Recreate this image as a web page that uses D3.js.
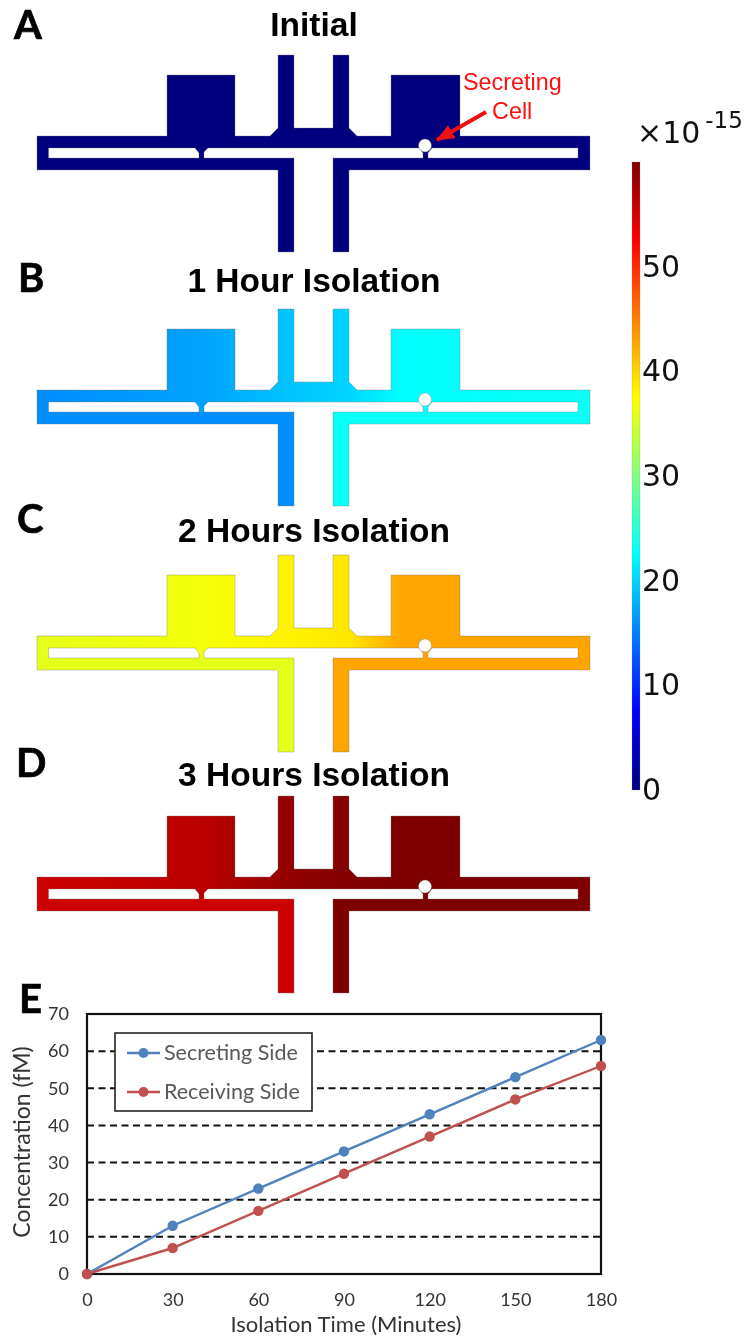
<!DOCTYPE html>
<html>
<head>
<meta charset="utf-8">
<script src="https://cdn.jsdelivr.net/npm/d3@7"></script>
<style>
  body { margin: 0; background: #fff; overflow: hidden; }
  svg { display: block; filter: blur(0.45px); }
</style>
</head>
<body>
<script>
// --- data ---

// part E
const isolationMinutes = [0, 30, 60, 90, 120, 150, 180];
const secretingSide = [0, 13, 23, 33, 43, 53, 63];
const receivingSide = [0, 7, 17, 27, 37, 47, 56];
const concentrationTicks = [0, 10, 20, 30, 40, 50, 60, 70];

// colour bar
const colorbarTicks = [0, 10, 20, 30, 40, 50];
const jetValues = [0, 7.5, 22.5, 37.5, 52.5, 60];
const jetColors = ['#00007f', '#0000ff', '#00ffff', '#ffff00', '#ff0000', '#7f0000'];

// concentration along the upper channel of the device, one row per panel
const panelLetters = ['A', 'B', 'C', 'D'];
const panelTitles = ['Initial', '1 Hour Isolation', '2 Hours Isolation', '3 Hours Isolation'];
const fieldPositions = [0, 163, 253, 313, 363, 553];
const fieldInitial = [0, 0, 0, 0, 0, 0];
const fieldHour1 = [15.8, 17, 19, 20, 22.5, 23];
const fieldHour2 = [36, 36.9, 38.2, 39, 42.8, 42.8];
const fieldHour3 = [55.5, 56.5, 58.8, 59.8, 60, 60];
const lowerLeftValues = [0, 15.9, 36, 55.5];
const lowerRightValues = [0, 23, 42.8, 60];

// device shape in its own units, origin at the left end / top of the inlets
const deviceOutline = [[0, 81], [130, 81], [130, 20], [198, 20], [198, 81], [233, 81], [241, 73], [241, 0], [257, 0],
  [257, 73], [296, 73], [296, 0], [312, 0], [312, 73], [320, 81], [354, 81], [354, 20], [423, 20], [423, 81], [553, 81],
  [553, 115], [312, 115], [312, 197], [296, 197], [296, 103], [386, 103], [386, 98], [382, 93], [171, 93], [167, 97],
  [167, 103], [257, 103], [257, 197], [241, 197], [241, 115], [0, 115]];
const slotLeft = [[11.6, 93], [158, 93], [162, 98], [162, 103], [11.6, 103]];
const slotRight = [[395, 93], [541, 93], [541, 103], [391, 103], [391, 98]];
const lowerLeftArm = [[0, 103], [257, 103], [257, 197], [241, 197], [241, 115], [0, 115]];
const lowerRightArm = [[296, 103], [553, 103], [553, 115], [312, 115], [312, 197], [296, 197]];
const cellChamber = [388, 90.5, 6.5];

// --- layout ---
const width = 748;
const height = 1338;
const deviceTops = [55, 309, 555, 796];
const titleBaselines = [36, 292, 542, 786];
const letterBaselines = [39, 292, 533, 777];
const letterLefts = [14, 18, 17, 16];

const svg = d3.select('body').append('svg')
  .attr('width', width)
  .attr('height', height)
  .style('font-family', 'Lato, sans-serif');

const defs = svg.append('defs');
const jet = d3.scaleLinear().domain(jetValues).range(jetColors);
const deviceX = d3.scaleLinear().domain([0, 553]).range([37, 590]);

// --- panels A-D ---
const fields = [fieldInitial, fieldHour1, fieldHour2, fieldHour3];

panelLetters.forEach((letter, i) => {
  const deviceY = d3.scaleLinear().domain([0, 197]).range([deviceTops[i], deviceTops[i] + 197]);
  const line = d3.line().x(d => deviceX(d[0])).y(d => deviceY(d[1])).curve(d3.curveLinearClosed);

  const grad = defs.append('linearGradient')
    .attr('id', 'field' + i)
    .attr('gradientUnits', 'userSpaceOnUse')
    .attr('x1', deviceX(0)).attr('x2', deviceX(553))
    .attr('y1', 0).attr('y2', 0);
  grad.selectAll('stop').data(fields[i]).join('stop')
    .attr('offset', (d, j) => fieldPositions[j] / 553)
    .attr('stop-color', d => jet(d));

  const shape = line(deviceOutline) + line(slotLeft) + line(slotRight);
  const g = svg.append('g');
  g.append('path').attr('d', shape).attr('fill', `url(#field${i})`).attr('fill-rule', 'evenodd');
  g.append('path').attr('d', line(lowerLeftArm)).attr('fill', jet(lowerLeftValues[i]));
  g.append('path').attr('d', line(lowerRightArm)).attr('fill', jet(lowerRightValues[i]));
  g.append('path').attr('d', shape)
    .attr('fill', 'none')
    .attr('stroke', '#777')
    .attr('stroke-opacity', 0.45)
    .attr('stroke-width', 0.8);
  g.append('circle')
    .attr('cx', deviceX(cellChamber[0]))
    .attr('cy', deviceY(cellChamber[1]))
    .attr('r', cellChamber[2])
    .attr('fill', '#fff')
    .attr('stroke', '#777')
    .attr('stroke-opacity', 0.45)
    .attr('stroke-width', 0.8);

  svg.append('text')
    .attr('x', 314).attr('y', titleBaselines[i])
    .attr('text-anchor', 'middle')
    .style('font-family', '"Liberation Sans", Arial, sans-serif')
    .style('font-weight', 700)
    .style('font-size', '33.5px')
    .text(panelTitles[i]);

  svg.append('text')
    .attr('x', letterLefts[i]).attr('y', letterBaselines[i])
    .attr('stroke', '#000')
    .attr('stroke-width', 0.7)
    .style('font-weight', 700)
    .style('font-size', '40px')
    .text(letter);
});

// Secreting cell annotation
const annotation = svg.append('g')
  .style('font-family', '"Liberation Sans", Arial, sans-serif')
  .style('font-size', '23.4px')
  .attr('fill', '#ff1010');
annotation.append('text').attr('x', 463).attr('y', 90).text('Secreting');
annotation.append('text').attr('x', 492).attr('y', 119).text('Cell');
defs.append('marker')
  .attr('id', 'arrow')
  .attr('markerUnits', 'userSpaceOnUse')
  .attr('viewBox', '0 0 18 15')
  .attr('refX', 17).attr('refY', 7.5)
  .attr('markerWidth', 18).attr('markerHeight', 15)
  .attr('orient', 'auto')
  .append('path').attr('d', 'M0,0L18,7.5L0,15Z').attr('fill', '#f01010');
svg.append('line')
  .attr('x1', 486).attr('y1', 112)
  .attr('x2', 437).attr('y2', 140)
  .attr('stroke', '#f01010')
  .attr('stroke-width', 4)
  .attr('marker-end', 'url(#arrow)');

// --- colour bar ---
const barY = d3.scaleLinear().domain([0, 60]).range([790, 162]);
const barGrad = defs.append('linearGradient')
  .attr('id', 'jetbar')
  .attr('x1', 0).attr('x2', 0).attr('y1', 1).attr('y2', 0);
barGrad.selectAll('stop').data(jetValues).join('stop')
  .attr('offset', d => d / 60)
  .attr('stop-color', d => jet(d));
svg.append('rect')
  .attr('x', 632).attr('y', barY(60))
  .attr('width', 8).attr('height', barY(0) - barY(60))
  .attr('fill', 'url(#jetbar)')
  .attr('stroke', '#888')
  .attr('stroke-opacity', 0.4)
  .attr('stroke-width', 0.6);

const barAxis = svg.append('g')
  .attr('transform', 'translate(640,0)')
  .call(d3.axisRight(barY).tickValues(colorbarTicks).tickSize(0).tickPadding(2));
barAxis.select('.domain').remove();
barAxis.selectAll('text')
  .style('font-family', '"DejaVu Sans", sans-serif')
  .style('font-size', '30px')
  .attr('fill', '#111');

const exponent = svg.append('text')
  .attr('x', 637).attr('y', 143)
  .attr('fill', '#111')
  .style('font-family', '"DejaVu Sans", sans-serif')
  .style('font-size', '30px');
exponent.append('tspan').text('×10');
exponent.append('tspan').attr('dy', -15).attr('dx', 5).style('font-size', '23px').text('-15');

// --- part E ---
const x = d3.scaleLinear().domain([0, 180]).range([87, 601]);
const y = d3.scaleLinear().domain([0, 70]).range([1274, 1014]);

svg.append('text')
  .attr('x', 19).attr('y', 1013)
  .attr('stroke', '#000')
  .attr('stroke-width', 0.7)
  .style('font-weight', 700)
  .style('font-size', '40px')
  .text('E');

svg.append('g').selectAll('line')
  .data(concentrationTicks.filter(d => d > 0 && d < 70))
  .join('line')
  .attr('x1', x(0)).attr('x2', x(180))
  .attr('y1', d => y(d)).attr('y2', d => y(d))
  .attr('stroke', '#111')
  .attr('stroke-width', 2)
  .attr('stroke-dasharray', '7,4.5');

svg.append('rect')
  .attr('x', x(0)).attr('y', y(70))
  .attr('width', x(180) - x(0)).attr('height', y(0) - y(70))
  .attr('fill', 'none')
  .attr('stroke', '#111')
  .attr('stroke-width', 2.2);

const xAxis = svg.append('g')
  .attr('transform', `translate(0,${y(0)})`)
  .call(d3.axisBottom(x).tickValues(isolationMinutes).tickSize(0).tickPadding(19));
const yAxis = svg.append('g')
  .attr('transform', `translate(${x(0)},0)`)
  .call(d3.axisLeft(y).tickValues(concentrationTicks).tickSize(0).tickPadding(18));
xAxis.select('.domain').remove();
yAxis.select('.domain').remove();
[xAxis, yAxis].forEach(axis => axis.selectAll('text')
  .style('font-family', 'Lato, sans-serif')
  .style('font-size', '18px')
  .attr('fill', '#333'));

svg.append('text')
  .attr('x', 346).attr('y', 1332)
  .attr('text-anchor', 'middle')
  .attr('fill', '#333')
  .style('font-size', '22px')
  .text('Isolation Time (Minutes)');
svg.append('text')
  .attr('transform', 'translate(30,1142) rotate(-90)')
  .attr('text-anchor', 'middle')
  .attr('fill', '#333')
  .style('font-size', '23px')
  .text('Concentration (fM)');

const seriesNames = ['Secreting Side', 'Receiving Side'];
const seriesValues = [secretingSide, receivingSide];
const seriesColors = ['#4f81bd', '#c0504d'];
const trace = d3.line().x((d, i) => x(isolationMinutes[i])).y(d => y(d));

seriesValues.forEach((values, i) => {
  svg.append('path')
    .attr('d', trace(values))
    .attr('fill', 'none')
    .attr('stroke', seriesColors[i])
    .attr('stroke-width', 2.4);
  svg.append('g').selectAll('circle')
    .data(values)
    .join('circle')
    .attr('cx', (d, j) => x(isolationMinutes[j]))
    .attr('cy', d => y(d))
    .attr('r', 5.2)
    .attr('fill', seriesColors[i]);
});

// legend
const legend = svg.append('g').attr('transform', 'translate(115,1033)');
legend.append('rect')
  .attr('width', 197).attr('height', 78)
  .attr('fill', '#fff')
  .attr('stroke', '#222')
  .attr('stroke-width', 1.6);
seriesNames.forEach((name, i) => {
  const row = legend.append('g').attr('transform', `translate(0,${20 + i * 39})`);
  row.append('line').attr('x1', 12).attr('x2', 45).attr('stroke', seriesColors[i]).attr('stroke-width', 2.4);
  row.append('circle').attr('cx', 28.5).attr('r', 5).attr('fill', seriesColors[i]);
  row.append('text')
    .attr('x', 49).attr('y', 7)
    .attr('fill', '#595959')
    .style('font-size', '21.5px')
    .text(name);
});
</script>
</body>
</html>
